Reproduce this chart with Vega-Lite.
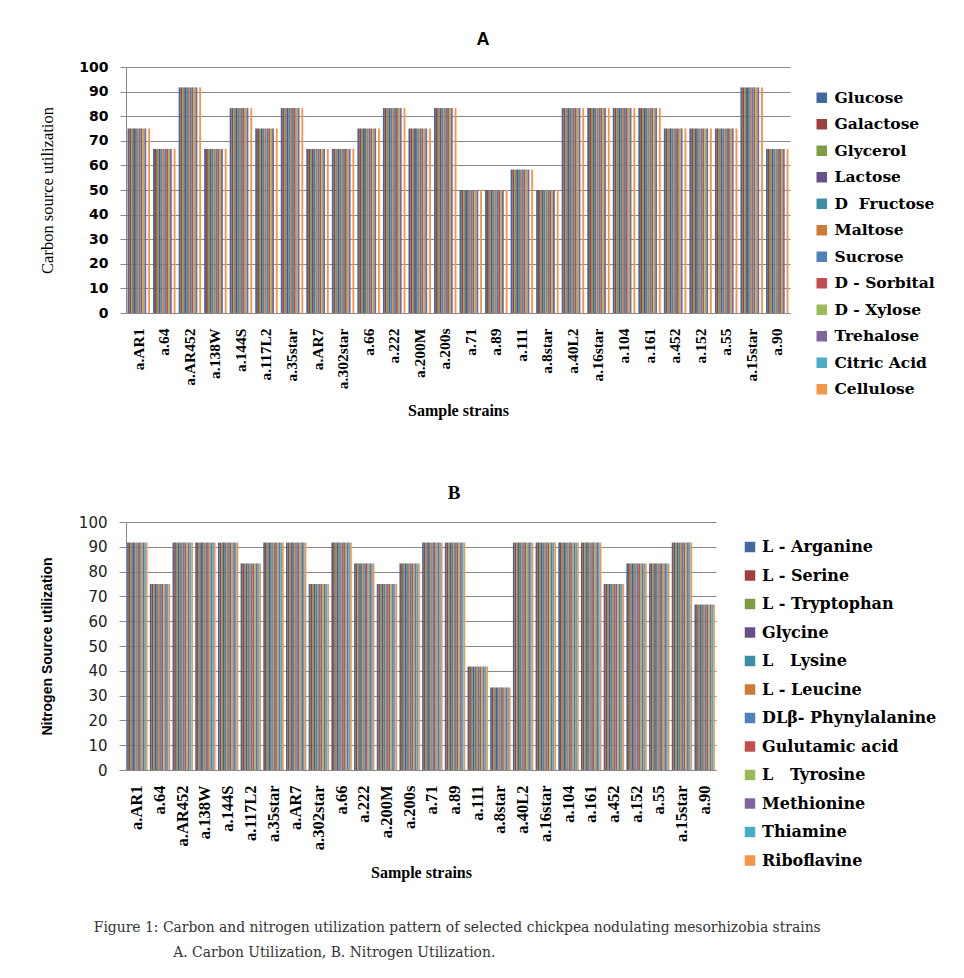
{
"$schema": "https://vega.github.io/schema/vega-lite/v6.json",
"background": "white",
"padding": {"left": 39, "top": 31, "right": 5, "bottom": 5},
"datasets": {
"carbon": [
{"strain":"a.AR1","source":"Glucose","pct":75},{"strain":"a.AR1","source":"Galactose","pct":75},{"strain":"a.AR1","source":"Glycerol","pct":75},{"strain":"a.AR1","source":"Lactose","pct":75},{"strain":"a.AR1","source":"D\u00a0\u00a0Fructose","pct":75},{"strain":"a.AR1","source":"Maltose","pct":75},{"strain":"a.AR1","source":"Sucrose","pct":75},{"strain":"a.AR1","source":"D - Sorbital","pct":75},{"strain":"a.AR1","source":"D - Xylose","pct":75},{"strain":"a.AR1","source":"Trehalose","pct":75},{"strain":"a.AR1","source":"Citric Acid","pct":0},{"strain":"a.AR1","source":"Cellulose","pct":75},
{"strain":"a.64","source":"Glucose","pct":66.7},{"strain":"a.64","source":"Galactose","pct":66.7},{"strain":"a.64","source":"Glycerol","pct":66.7},{"strain":"a.64","source":"Lactose","pct":66.7},{"strain":"a.64","source":"D\u00a0\u00a0Fructose","pct":66.7},{"strain":"a.64","source":"Maltose","pct":66.7},{"strain":"a.64","source":"Sucrose","pct":66.7},{"strain":"a.64","source":"D - Sorbital","pct":66.7},{"strain":"a.64","source":"D - Xylose","pct":66.7},{"strain":"a.64","source":"Trehalose","pct":66.7},{"strain":"a.64","source":"Citric Acid","pct":0},{"strain":"a.64","source":"Cellulose","pct":66.7},
{"strain":"a.AR452","source":"Glucose","pct":91.7},{"strain":"a.AR452","source":"Galactose","pct":91.7},{"strain":"a.AR452","source":"Glycerol","pct":91.7},{"strain":"a.AR452","source":"Lactose","pct":91.7},{"strain":"a.AR452","source":"D\u00a0\u00a0Fructose","pct":91.7},{"strain":"a.AR452","source":"Maltose","pct":91.7},{"strain":"a.AR452","source":"Sucrose","pct":91.7},{"strain":"a.AR452","source":"D - Sorbital","pct":91.7},{"strain":"a.AR452","source":"D - Xylose","pct":91.7},{"strain":"a.AR452","source":"Trehalose","pct":91.7},{"strain":"a.AR452","source":"Citric Acid","pct":0},{"strain":"a.AR452","source":"Cellulose","pct":91.7},
{"strain":"a.138W","source":"Glucose","pct":66.7},{"strain":"a.138W","source":"Galactose","pct":66.7},{"strain":"a.138W","source":"Glycerol","pct":66.7},{"strain":"a.138W","source":"Lactose","pct":66.7},{"strain":"a.138W","source":"D\u00a0\u00a0Fructose","pct":66.7},{"strain":"a.138W","source":"Maltose","pct":66.7},{"strain":"a.138W","source":"Sucrose","pct":66.7},{"strain":"a.138W","source":"D - Sorbital","pct":66.7},{"strain":"a.138W","source":"D - Xylose","pct":66.7},{"strain":"a.138W","source":"Trehalose","pct":66.7},{"strain":"a.138W","source":"Citric Acid","pct":0},{"strain":"a.138W","source":"Cellulose","pct":66.7},
{"strain":"a.144S","source":"Glucose","pct":83.3},{"strain":"a.144S","source":"Galactose","pct":83.3},{"strain":"a.144S","source":"Glycerol","pct":83.3},{"strain":"a.144S","source":"Lactose","pct":83.3},{"strain":"a.144S","source":"D\u00a0\u00a0Fructose","pct":83.3},{"strain":"a.144S","source":"Maltose","pct":83.3},{"strain":"a.144S","source":"Sucrose","pct":83.3},{"strain":"a.144S","source":"D - Sorbital","pct":83.3},{"strain":"a.144S","source":"D - Xylose","pct":83.3},{"strain":"a.144S","source":"Trehalose","pct":83.3},{"strain":"a.144S","source":"Citric Acid","pct":0},{"strain":"a.144S","source":"Cellulose","pct":83.3},
{"strain":"a.117L2","source":"Glucose","pct":75},{"strain":"a.117L2","source":"Galactose","pct":75},{"strain":"a.117L2","source":"Glycerol","pct":75},{"strain":"a.117L2","source":"Lactose","pct":75},{"strain":"a.117L2","source":"D\u00a0\u00a0Fructose","pct":75},{"strain":"a.117L2","source":"Maltose","pct":75},{"strain":"a.117L2","source":"Sucrose","pct":75},{"strain":"a.117L2","source":"D - Sorbital","pct":75},{"strain":"a.117L2","source":"D - Xylose","pct":75},{"strain":"a.117L2","source":"Trehalose","pct":75},{"strain":"a.117L2","source":"Citric Acid","pct":0},{"strain":"a.117L2","source":"Cellulose","pct":75},
{"strain":"a.35star","source":"Glucose","pct":83.3},{"strain":"a.35star","source":"Galactose","pct":83.3},{"strain":"a.35star","source":"Glycerol","pct":83.3},{"strain":"a.35star","source":"Lactose","pct":83.3},{"strain":"a.35star","source":"D\u00a0\u00a0Fructose","pct":83.3},{"strain":"a.35star","source":"Maltose","pct":83.3},{"strain":"a.35star","source":"Sucrose","pct":83.3},{"strain":"a.35star","source":"D - Sorbital","pct":83.3},{"strain":"a.35star","source":"D - Xylose","pct":83.3},{"strain":"a.35star","source":"Trehalose","pct":83.3},{"strain":"a.35star","source":"Citric Acid","pct":0},{"strain":"a.35star","source":"Cellulose","pct":83.3},
{"strain":"a.AR7","source":"Glucose","pct":66.7},{"strain":"a.AR7","source":"Galactose","pct":66.7},{"strain":"a.AR7","source":"Glycerol","pct":66.7},{"strain":"a.AR7","source":"Lactose","pct":66.7},{"strain":"a.AR7","source":"D\u00a0\u00a0Fructose","pct":66.7},{"strain":"a.AR7","source":"Maltose","pct":66.7},{"strain":"a.AR7","source":"Sucrose","pct":66.7},{"strain":"a.AR7","source":"D - Sorbital","pct":66.7},{"strain":"a.AR7","source":"D - Xylose","pct":66.7},{"strain":"a.AR7","source":"Trehalose","pct":66.7},{"strain":"a.AR7","source":"Citric Acid","pct":0},{"strain":"a.AR7","source":"Cellulose","pct":66.7},
{"strain":"a.302star","source":"Glucose","pct":66.7},{"strain":"a.302star","source":"Galactose","pct":66.7},{"strain":"a.302star","source":"Glycerol","pct":66.7},{"strain":"a.302star","source":"Lactose","pct":66.7},{"strain":"a.302star","source":"D\u00a0\u00a0Fructose","pct":66.7},{"strain":"a.302star","source":"Maltose","pct":66.7},{"strain":"a.302star","source":"Sucrose","pct":66.7},{"strain":"a.302star","source":"D - Sorbital","pct":66.7},{"strain":"a.302star","source":"D - Xylose","pct":66.7},{"strain":"a.302star","source":"Trehalose","pct":66.7},{"strain":"a.302star","source":"Citric Acid","pct":0},{"strain":"a.302star","source":"Cellulose","pct":66.7},
{"strain":"a.66","source":"Glucose","pct":75},{"strain":"a.66","source":"Galactose","pct":75},{"strain":"a.66","source":"Glycerol","pct":75},{"strain":"a.66","source":"Lactose","pct":75},{"strain":"a.66","source":"D\u00a0\u00a0Fructose","pct":75},{"strain":"a.66","source":"Maltose","pct":75},{"strain":"a.66","source":"Sucrose","pct":75},{"strain":"a.66","source":"D - Sorbital","pct":75},{"strain":"a.66","source":"D - Xylose","pct":75},{"strain":"a.66","source":"Trehalose","pct":75},{"strain":"a.66","source":"Citric Acid","pct":0},{"strain":"a.66","source":"Cellulose","pct":75},
{"strain":"a.222","source":"Glucose","pct":83.3},{"strain":"a.222","source":"Galactose","pct":83.3},{"strain":"a.222","source":"Glycerol","pct":83.3},{"strain":"a.222","source":"Lactose","pct":83.3},{"strain":"a.222","source":"D\u00a0\u00a0Fructose","pct":83.3},{"strain":"a.222","source":"Maltose","pct":83.3},{"strain":"a.222","source":"Sucrose","pct":83.3},{"strain":"a.222","source":"D - Sorbital","pct":83.3},{"strain":"a.222","source":"D - Xylose","pct":83.3},{"strain":"a.222","source":"Trehalose","pct":83.3},{"strain":"a.222","source":"Citric Acid","pct":0},{"strain":"a.222","source":"Cellulose","pct":83.3},
{"strain":"a.200M","source":"Glucose","pct":75},{"strain":"a.200M","source":"Galactose","pct":75},{"strain":"a.200M","source":"Glycerol","pct":75},{"strain":"a.200M","source":"Lactose","pct":75},{"strain":"a.200M","source":"D\u00a0\u00a0Fructose","pct":75},{"strain":"a.200M","source":"Maltose","pct":75},{"strain":"a.200M","source":"Sucrose","pct":75},{"strain":"a.200M","source":"D - Sorbital","pct":75},{"strain":"a.200M","source":"D - Xylose","pct":75},{"strain":"a.200M","source":"Trehalose","pct":75},{"strain":"a.200M","source":"Citric Acid","pct":0},{"strain":"a.200M","source":"Cellulose","pct":75},
{"strain":"a.200s","source":"Glucose","pct":83.3},{"strain":"a.200s","source":"Galactose","pct":83.3},{"strain":"a.200s","source":"Glycerol","pct":83.3},{"strain":"a.200s","source":"Lactose","pct":83.3},{"strain":"a.200s","source":"D\u00a0\u00a0Fructose","pct":83.3},{"strain":"a.200s","source":"Maltose","pct":83.3},{"strain":"a.200s","source":"Sucrose","pct":83.3},{"strain":"a.200s","source":"D - Sorbital","pct":83.3},{"strain":"a.200s","source":"D - Xylose","pct":83.3},{"strain":"a.200s","source":"Trehalose","pct":83.3},{"strain":"a.200s","source":"Citric Acid","pct":0},{"strain":"a.200s","source":"Cellulose","pct":83.3},
{"strain":"a.71","source":"Glucose","pct":50},{"strain":"a.71","source":"Galactose","pct":50},{"strain":"a.71","source":"Glycerol","pct":50},{"strain":"a.71","source":"Lactose","pct":50},{"strain":"a.71","source":"D\u00a0\u00a0Fructose","pct":50},{"strain":"a.71","source":"Maltose","pct":50},{"strain":"a.71","source":"Sucrose","pct":50},{"strain":"a.71","source":"D - Sorbital","pct":50},{"strain":"a.71","source":"D - Xylose","pct":50},{"strain":"a.71","source":"Trehalose","pct":50},{"strain":"a.71","source":"Citric Acid","pct":0},{"strain":"a.71","source":"Cellulose","pct":50},
{"strain":"a.89","source":"Glucose","pct":50},{"strain":"a.89","source":"Galactose","pct":50},{"strain":"a.89","source":"Glycerol","pct":50},{"strain":"a.89","source":"Lactose","pct":50},{"strain":"a.89","source":"D\u00a0\u00a0Fructose","pct":50},{"strain":"a.89","source":"Maltose","pct":50},{"strain":"a.89","source":"Sucrose","pct":50},{"strain":"a.89","source":"D - Sorbital","pct":50},{"strain":"a.89","source":"D - Xylose","pct":50},{"strain":"a.89","source":"Trehalose","pct":50},{"strain":"a.89","source":"Citric Acid","pct":0},{"strain":"a.89","source":"Cellulose","pct":50},
{"strain":"a.111","source":"Glucose","pct":58.3},{"strain":"a.111","source":"Galactose","pct":58.3},{"strain":"a.111","source":"Glycerol","pct":58.3},{"strain":"a.111","source":"Lactose","pct":58.3},{"strain":"a.111","source":"D\u00a0\u00a0Fructose","pct":58.3},{"strain":"a.111","source":"Maltose","pct":58.3},{"strain":"a.111","source":"Sucrose","pct":58.3},{"strain":"a.111","source":"D - Sorbital","pct":58.3},{"strain":"a.111","source":"D - Xylose","pct":58.3},{"strain":"a.111","source":"Trehalose","pct":58.3},{"strain":"a.111","source":"Citric Acid","pct":0},{"strain":"a.111","source":"Cellulose","pct":58.3},
{"strain":"a.8star","source":"Glucose","pct":50},{"strain":"a.8star","source":"Galactose","pct":50},{"strain":"a.8star","source":"Glycerol","pct":50},{"strain":"a.8star","source":"Lactose","pct":50},{"strain":"a.8star","source":"D\u00a0\u00a0Fructose","pct":50},{"strain":"a.8star","source":"Maltose","pct":50},{"strain":"a.8star","source":"Sucrose","pct":50},{"strain":"a.8star","source":"D - Sorbital","pct":50},{"strain":"a.8star","source":"D - Xylose","pct":50},{"strain":"a.8star","source":"Trehalose","pct":50},{"strain":"a.8star","source":"Citric Acid","pct":0},{"strain":"a.8star","source":"Cellulose","pct":50},
{"strain":"a.40L2","source":"Glucose","pct":83.3},{"strain":"a.40L2","source":"Galactose","pct":83.3},{"strain":"a.40L2","source":"Glycerol","pct":83.3},{"strain":"a.40L2","source":"Lactose","pct":83.3},{"strain":"a.40L2","source":"D\u00a0\u00a0Fructose","pct":83.3},{"strain":"a.40L2","source":"Maltose","pct":83.3},{"strain":"a.40L2","source":"Sucrose","pct":83.3},{"strain":"a.40L2","source":"D - Sorbital","pct":83.3},{"strain":"a.40L2","source":"D - Xylose","pct":83.3},{"strain":"a.40L2","source":"Trehalose","pct":83.3},{"strain":"a.40L2","source":"Citric Acid","pct":0},{"strain":"a.40L2","source":"Cellulose","pct":83.3},
{"strain":"a.16star","source":"Glucose","pct":83.3},{"strain":"a.16star","source":"Galactose","pct":83.3},{"strain":"a.16star","source":"Glycerol","pct":83.3},{"strain":"a.16star","source":"Lactose","pct":83.3},{"strain":"a.16star","source":"D\u00a0\u00a0Fructose","pct":83.3},{"strain":"a.16star","source":"Maltose","pct":83.3},{"strain":"a.16star","source":"Sucrose","pct":83.3},{"strain":"a.16star","source":"D - Sorbital","pct":83.3},{"strain":"a.16star","source":"D - Xylose","pct":83.3},{"strain":"a.16star","source":"Trehalose","pct":83.3},{"strain":"a.16star","source":"Citric Acid","pct":0},{"strain":"a.16star","source":"Cellulose","pct":83.3},
{"strain":"a.104","source":"Glucose","pct":83.3},{"strain":"a.104","source":"Galactose","pct":83.3},{"strain":"a.104","source":"Glycerol","pct":83.3},{"strain":"a.104","source":"Lactose","pct":83.3},{"strain":"a.104","source":"D\u00a0\u00a0Fructose","pct":83.3},{"strain":"a.104","source":"Maltose","pct":83.3},{"strain":"a.104","source":"Sucrose","pct":83.3},{"strain":"a.104","source":"D - Sorbital","pct":83.3},{"strain":"a.104","source":"D - Xylose","pct":83.3},{"strain":"a.104","source":"Trehalose","pct":83.3},{"strain":"a.104","source":"Citric Acid","pct":0},{"strain":"a.104","source":"Cellulose","pct":83.3},
{"strain":"a.161","source":"Glucose","pct":83.3},{"strain":"a.161","source":"Galactose","pct":83.3},{"strain":"a.161","source":"Glycerol","pct":83.3},{"strain":"a.161","source":"Lactose","pct":83.3},{"strain":"a.161","source":"D\u00a0\u00a0Fructose","pct":83.3},{"strain":"a.161","source":"Maltose","pct":83.3},{"strain":"a.161","source":"Sucrose","pct":83.3},{"strain":"a.161","source":"D - Sorbital","pct":83.3},{"strain":"a.161","source":"D - Xylose","pct":83.3},{"strain":"a.161","source":"Trehalose","pct":83.3},{"strain":"a.161","source":"Citric Acid","pct":0},{"strain":"a.161","source":"Cellulose","pct":83.3},
{"strain":"a.452","source":"Glucose","pct":75},{"strain":"a.452","source":"Galactose","pct":75},{"strain":"a.452","source":"Glycerol","pct":75},{"strain":"a.452","source":"Lactose","pct":75},{"strain":"a.452","source":"D\u00a0\u00a0Fructose","pct":75},{"strain":"a.452","source":"Maltose","pct":75},{"strain":"a.452","source":"Sucrose","pct":75},{"strain":"a.452","source":"D - Sorbital","pct":75},{"strain":"a.452","source":"D - Xylose","pct":75},{"strain":"a.452","source":"Trehalose","pct":75},{"strain":"a.452","source":"Citric Acid","pct":0},{"strain":"a.452","source":"Cellulose","pct":75},
{"strain":"a.152","source":"Glucose","pct":75},{"strain":"a.152","source":"Galactose","pct":75},{"strain":"a.152","source":"Glycerol","pct":75},{"strain":"a.152","source":"Lactose","pct":75},{"strain":"a.152","source":"D\u00a0\u00a0Fructose","pct":75},{"strain":"a.152","source":"Maltose","pct":75},{"strain":"a.152","source":"Sucrose","pct":75},{"strain":"a.152","source":"D - Sorbital","pct":75},{"strain":"a.152","source":"D - Xylose","pct":75},{"strain":"a.152","source":"Trehalose","pct":75},{"strain":"a.152","source":"Citric Acid","pct":0},{"strain":"a.152","source":"Cellulose","pct":75},
{"strain":"a.55","source":"Glucose","pct":75},{"strain":"a.55","source":"Galactose","pct":75},{"strain":"a.55","source":"Glycerol","pct":75},{"strain":"a.55","source":"Lactose","pct":75},{"strain":"a.55","source":"D\u00a0\u00a0Fructose","pct":75},{"strain":"a.55","source":"Maltose","pct":75},{"strain":"a.55","source":"Sucrose","pct":75},{"strain":"a.55","source":"D - Sorbital","pct":75},{"strain":"a.55","source":"D - Xylose","pct":75},{"strain":"a.55","source":"Trehalose","pct":75},{"strain":"a.55","source":"Citric Acid","pct":0},{"strain":"a.55","source":"Cellulose","pct":75},
{"strain":"a.15star","source":"Glucose","pct":91.7},{"strain":"a.15star","source":"Galactose","pct":91.7},{"strain":"a.15star","source":"Glycerol","pct":91.7},{"strain":"a.15star","source":"Lactose","pct":91.7},{"strain":"a.15star","source":"D\u00a0\u00a0Fructose","pct":91.7},{"strain":"a.15star","source":"Maltose","pct":91.7},{"strain":"a.15star","source":"Sucrose","pct":91.7},{"strain":"a.15star","source":"D - Sorbital","pct":91.7},{"strain":"a.15star","source":"D - Xylose","pct":91.7},{"strain":"a.15star","source":"Trehalose","pct":91.7},{"strain":"a.15star","source":"Citric Acid","pct":0},{"strain":"a.15star","source":"Cellulose","pct":91.7},
{"strain":"a.90","source":"Glucose","pct":66.7},{"strain":"a.90","source":"Galactose","pct":66.7},{"strain":"a.90","source":"Glycerol","pct":66.7},{"strain":"a.90","source":"Lactose","pct":66.7},{"strain":"a.90","source":"D\u00a0\u00a0Fructose","pct":66.7},{"strain":"a.90","source":"Maltose","pct":66.7},{"strain":"a.90","source":"Sucrose","pct":66.7},{"strain":"a.90","source":"D - Sorbital","pct":66.7},{"strain":"a.90","source":"D - Xylose","pct":66.7},{"strain":"a.90","source":"Trehalose","pct":66.7},{"strain":"a.90","source":"Citric Acid","pct":0},{"strain":"a.90","source":"Cellulose","pct":66.7}
],
"nitrogen": [
{"strain":"a.AR1","source":"L - Arganine","pct":91.7},{"strain":"a.AR1","source":"L - Serine","pct":91.7},{"strain":"a.AR1","source":"L - Tryptophan","pct":91.7},{"strain":"a.AR1","source":"Glycine","pct":91.7},{"strain":"a.AR1","source":"L\u00a0\u00a0\u00a0Lysine","pct":91.7},{"strain":"a.AR1","source":"L - Leucine","pct":91.7},{"strain":"a.AR1","source":"DLβ- Phynylalanine","pct":91.7},{"strain":"a.AR1","source":"Gulutamic acid","pct":91.7},{"strain":"a.AR1","source":"L\u00a0\u00a0\u00a0Tyrosine","pct":91.7},{"strain":"a.AR1","source":"Methionine","pct":91.7},{"strain":"a.AR1","source":"Thiamine","pct":91.7},{"strain":"a.AR1","source":"Riboflavine","pct":91.7},
{"strain":"a.64","source":"L - Arganine","pct":75},{"strain":"a.64","source":"L - Serine","pct":75},{"strain":"a.64","source":"L - Tryptophan","pct":75},{"strain":"a.64","source":"Glycine","pct":75},{"strain":"a.64","source":"L\u00a0\u00a0\u00a0Lysine","pct":75},{"strain":"a.64","source":"L - Leucine","pct":75},{"strain":"a.64","source":"DLβ- Phynylalanine","pct":75},{"strain":"a.64","source":"Gulutamic acid","pct":75},{"strain":"a.64","source":"L\u00a0\u00a0\u00a0Tyrosine","pct":75},{"strain":"a.64","source":"Methionine","pct":75},{"strain":"a.64","source":"Thiamine","pct":75},{"strain":"a.64","source":"Riboflavine","pct":75},
{"strain":"a.AR452","source":"L - Arganine","pct":91.7},{"strain":"a.AR452","source":"L - Serine","pct":91.7},{"strain":"a.AR452","source":"L - Tryptophan","pct":91.7},{"strain":"a.AR452","source":"Glycine","pct":91.7},{"strain":"a.AR452","source":"L\u00a0\u00a0\u00a0Lysine","pct":91.7},{"strain":"a.AR452","source":"L - Leucine","pct":91.7},{"strain":"a.AR452","source":"DLβ- Phynylalanine","pct":91.7},{"strain":"a.AR452","source":"Gulutamic acid","pct":91.7},{"strain":"a.AR452","source":"L\u00a0\u00a0\u00a0Tyrosine","pct":91.7},{"strain":"a.AR452","source":"Methionine","pct":91.7},{"strain":"a.AR452","source":"Thiamine","pct":91.7},{"strain":"a.AR452","source":"Riboflavine","pct":91.7},
{"strain":"a.138W","source":"L - Arganine","pct":91.7},{"strain":"a.138W","source":"L - Serine","pct":91.7},{"strain":"a.138W","source":"L - Tryptophan","pct":91.7},{"strain":"a.138W","source":"Glycine","pct":91.7},{"strain":"a.138W","source":"L\u00a0\u00a0\u00a0Lysine","pct":91.7},{"strain":"a.138W","source":"L - Leucine","pct":91.7},{"strain":"a.138W","source":"DLβ- Phynylalanine","pct":91.7},{"strain":"a.138W","source":"Gulutamic acid","pct":91.7},{"strain":"a.138W","source":"L\u00a0\u00a0\u00a0Tyrosine","pct":91.7},{"strain":"a.138W","source":"Methionine","pct":91.7},{"strain":"a.138W","source":"Thiamine","pct":91.7},{"strain":"a.138W","source":"Riboflavine","pct":91.7},
{"strain":"a.144S","source":"L - Arganine","pct":91.7},{"strain":"a.144S","source":"L - Serine","pct":91.7},{"strain":"a.144S","source":"L - Tryptophan","pct":91.7},{"strain":"a.144S","source":"Glycine","pct":91.7},{"strain":"a.144S","source":"L\u00a0\u00a0\u00a0Lysine","pct":91.7},{"strain":"a.144S","source":"L - Leucine","pct":91.7},{"strain":"a.144S","source":"DLβ- Phynylalanine","pct":91.7},{"strain":"a.144S","source":"Gulutamic acid","pct":91.7},{"strain":"a.144S","source":"L\u00a0\u00a0\u00a0Tyrosine","pct":91.7},{"strain":"a.144S","source":"Methionine","pct":91.7},{"strain":"a.144S","source":"Thiamine","pct":91.7},{"strain":"a.144S","source":"Riboflavine","pct":91.7},
{"strain":"a.117L2","source":"L - Arganine","pct":83.3},{"strain":"a.117L2","source":"L - Serine","pct":83.3},{"strain":"a.117L2","source":"L - Tryptophan","pct":83.3},{"strain":"a.117L2","source":"Glycine","pct":83.3},{"strain":"a.117L2","source":"L\u00a0\u00a0\u00a0Lysine","pct":83.3},{"strain":"a.117L2","source":"L - Leucine","pct":83.3},{"strain":"a.117L2","source":"DLβ- Phynylalanine","pct":83.3},{"strain":"a.117L2","source":"Gulutamic acid","pct":83.3},{"strain":"a.117L2","source":"L\u00a0\u00a0\u00a0Tyrosine","pct":83.3},{"strain":"a.117L2","source":"Methionine","pct":83.3},{"strain":"a.117L2","source":"Thiamine","pct":83.3},{"strain":"a.117L2","source":"Riboflavine","pct":83.3},
{"strain":"a.35star","source":"L - Arganine","pct":91.7},{"strain":"a.35star","source":"L - Serine","pct":91.7},{"strain":"a.35star","source":"L - Tryptophan","pct":91.7},{"strain":"a.35star","source":"Glycine","pct":91.7},{"strain":"a.35star","source":"L\u00a0\u00a0\u00a0Lysine","pct":91.7},{"strain":"a.35star","source":"L - Leucine","pct":91.7},{"strain":"a.35star","source":"DLβ- Phynylalanine","pct":91.7},{"strain":"a.35star","source":"Gulutamic acid","pct":91.7},{"strain":"a.35star","source":"L\u00a0\u00a0\u00a0Tyrosine","pct":91.7},{"strain":"a.35star","source":"Methionine","pct":91.7},{"strain":"a.35star","source":"Thiamine","pct":91.7},{"strain":"a.35star","source":"Riboflavine","pct":91.7},
{"strain":"a.AR7","source":"L - Arganine","pct":91.7},{"strain":"a.AR7","source":"L - Serine","pct":91.7},{"strain":"a.AR7","source":"L - Tryptophan","pct":91.7},{"strain":"a.AR7","source":"Glycine","pct":91.7},{"strain":"a.AR7","source":"L\u00a0\u00a0\u00a0Lysine","pct":91.7},{"strain":"a.AR7","source":"L - Leucine","pct":91.7},{"strain":"a.AR7","source":"DLβ- Phynylalanine","pct":91.7},{"strain":"a.AR7","source":"Gulutamic acid","pct":91.7},{"strain":"a.AR7","source":"L\u00a0\u00a0\u00a0Tyrosine","pct":91.7},{"strain":"a.AR7","source":"Methionine","pct":91.7},{"strain":"a.AR7","source":"Thiamine","pct":91.7},{"strain":"a.AR7","source":"Riboflavine","pct":91.7},
{"strain":"a.302star","source":"L - Arganine","pct":75},{"strain":"a.302star","source":"L - Serine","pct":75},{"strain":"a.302star","source":"L - Tryptophan","pct":75},{"strain":"a.302star","source":"Glycine","pct":75},{"strain":"a.302star","source":"L\u00a0\u00a0\u00a0Lysine","pct":75},{"strain":"a.302star","source":"L - Leucine","pct":75},{"strain":"a.302star","source":"DLβ- Phynylalanine","pct":75},{"strain":"a.302star","source":"Gulutamic acid","pct":75},{"strain":"a.302star","source":"L\u00a0\u00a0\u00a0Tyrosine","pct":75},{"strain":"a.302star","source":"Methionine","pct":75},{"strain":"a.302star","source":"Thiamine","pct":75},{"strain":"a.302star","source":"Riboflavine","pct":75},
{"strain":"a.66","source":"L - Arganine","pct":91.7},{"strain":"a.66","source":"L - Serine","pct":91.7},{"strain":"a.66","source":"L - Tryptophan","pct":91.7},{"strain":"a.66","source":"Glycine","pct":91.7},{"strain":"a.66","source":"L\u00a0\u00a0\u00a0Lysine","pct":91.7},{"strain":"a.66","source":"L - Leucine","pct":91.7},{"strain":"a.66","source":"DLβ- Phynylalanine","pct":91.7},{"strain":"a.66","source":"Gulutamic acid","pct":91.7},{"strain":"a.66","source":"L\u00a0\u00a0\u00a0Tyrosine","pct":91.7},{"strain":"a.66","source":"Methionine","pct":91.7},{"strain":"a.66","source":"Thiamine","pct":91.7},{"strain":"a.66","source":"Riboflavine","pct":91.7},
{"strain":"a.222","source":"L - Arganine","pct":83.3},{"strain":"a.222","source":"L - Serine","pct":83.3},{"strain":"a.222","source":"L - Tryptophan","pct":83.3},{"strain":"a.222","source":"Glycine","pct":83.3},{"strain":"a.222","source":"L\u00a0\u00a0\u00a0Lysine","pct":83.3},{"strain":"a.222","source":"L - Leucine","pct":83.3},{"strain":"a.222","source":"DLβ- Phynylalanine","pct":83.3},{"strain":"a.222","source":"Gulutamic acid","pct":83.3},{"strain":"a.222","source":"L\u00a0\u00a0\u00a0Tyrosine","pct":83.3},{"strain":"a.222","source":"Methionine","pct":83.3},{"strain":"a.222","source":"Thiamine","pct":83.3},{"strain":"a.222","source":"Riboflavine","pct":83.3},
{"strain":"a.200M","source":"L - Arganine","pct":75},{"strain":"a.200M","source":"L - Serine","pct":75},{"strain":"a.200M","source":"L - Tryptophan","pct":75},{"strain":"a.200M","source":"Glycine","pct":75},{"strain":"a.200M","source":"L\u00a0\u00a0\u00a0Lysine","pct":75},{"strain":"a.200M","source":"L - Leucine","pct":75},{"strain":"a.200M","source":"DLβ- Phynylalanine","pct":75},{"strain":"a.200M","source":"Gulutamic acid","pct":75},{"strain":"a.200M","source":"L\u00a0\u00a0\u00a0Tyrosine","pct":75},{"strain":"a.200M","source":"Methionine","pct":75},{"strain":"a.200M","source":"Thiamine","pct":75},{"strain":"a.200M","source":"Riboflavine","pct":75},
{"strain":"a.200s","source":"L - Arganine","pct":83.3},{"strain":"a.200s","source":"L - Serine","pct":83.3},{"strain":"a.200s","source":"L - Tryptophan","pct":83.3},{"strain":"a.200s","source":"Glycine","pct":83.3},{"strain":"a.200s","source":"L\u00a0\u00a0\u00a0Lysine","pct":83.3},{"strain":"a.200s","source":"L - Leucine","pct":83.3},{"strain":"a.200s","source":"DLβ- Phynylalanine","pct":83.3},{"strain":"a.200s","source":"Gulutamic acid","pct":83.3},{"strain":"a.200s","source":"L\u00a0\u00a0\u00a0Tyrosine","pct":83.3},{"strain":"a.200s","source":"Methionine","pct":83.3},{"strain":"a.200s","source":"Thiamine","pct":83.3},{"strain":"a.200s","source":"Riboflavine","pct":83.3},
{"strain":"a.71","source":"L - Arganine","pct":91.7},{"strain":"a.71","source":"L - Serine","pct":91.7},{"strain":"a.71","source":"L - Tryptophan","pct":91.7},{"strain":"a.71","source":"Glycine","pct":91.7},{"strain":"a.71","source":"L\u00a0\u00a0\u00a0Lysine","pct":91.7},{"strain":"a.71","source":"L - Leucine","pct":91.7},{"strain":"a.71","source":"DLβ- Phynylalanine","pct":91.7},{"strain":"a.71","source":"Gulutamic acid","pct":91.7},{"strain":"a.71","source":"L\u00a0\u00a0\u00a0Tyrosine","pct":91.7},{"strain":"a.71","source":"Methionine","pct":91.7},{"strain":"a.71","source":"Thiamine","pct":91.7},{"strain":"a.71","source":"Riboflavine","pct":91.7},
{"strain":"a.89","source":"L - Arganine","pct":91.7},{"strain":"a.89","source":"L - Serine","pct":91.7},{"strain":"a.89","source":"L - Tryptophan","pct":91.7},{"strain":"a.89","source":"Glycine","pct":91.7},{"strain":"a.89","source":"L\u00a0\u00a0\u00a0Lysine","pct":91.7},{"strain":"a.89","source":"L - Leucine","pct":91.7},{"strain":"a.89","source":"DLβ- Phynylalanine","pct":91.7},{"strain":"a.89","source":"Gulutamic acid","pct":91.7},{"strain":"a.89","source":"L\u00a0\u00a0\u00a0Tyrosine","pct":91.7},{"strain":"a.89","source":"Methionine","pct":91.7},{"strain":"a.89","source":"Thiamine","pct":91.7},{"strain":"a.89","source":"Riboflavine","pct":91.7},
{"strain":"a.111","source":"L - Arganine","pct":41.7},{"strain":"a.111","source":"L - Serine","pct":41.7},{"strain":"a.111","source":"L - Tryptophan","pct":41.7},{"strain":"a.111","source":"Glycine","pct":41.7},{"strain":"a.111","source":"L\u00a0\u00a0\u00a0Lysine","pct":41.7},{"strain":"a.111","source":"L - Leucine","pct":41.7},{"strain":"a.111","source":"DLβ- Phynylalanine","pct":41.7},{"strain":"a.111","source":"Gulutamic acid","pct":41.7},{"strain":"a.111","source":"L\u00a0\u00a0\u00a0Tyrosine","pct":41.7},{"strain":"a.111","source":"Methionine","pct":41.7},{"strain":"a.111","source":"Thiamine","pct":41.7},{"strain":"a.111","source":"Riboflavine","pct":41.7},
{"strain":"a.8star","source":"L - Arganine","pct":33.3},{"strain":"a.8star","source":"L - Serine","pct":33.3},{"strain":"a.8star","source":"L - Tryptophan","pct":33.3},{"strain":"a.8star","source":"Glycine","pct":33.3},{"strain":"a.8star","source":"L\u00a0\u00a0\u00a0Lysine","pct":33.3},{"strain":"a.8star","source":"L - Leucine","pct":33.3},{"strain":"a.8star","source":"DLβ- Phynylalanine","pct":33.3},{"strain":"a.8star","source":"Gulutamic acid","pct":33.3},{"strain":"a.8star","source":"L\u00a0\u00a0\u00a0Tyrosine","pct":33.3},{"strain":"a.8star","source":"Methionine","pct":33.3},{"strain":"a.8star","source":"Thiamine","pct":33.3},{"strain":"a.8star","source":"Riboflavine","pct":33.3},
{"strain":"a.40L2","source":"L - Arganine","pct":91.7},{"strain":"a.40L2","source":"L - Serine","pct":91.7},{"strain":"a.40L2","source":"L - Tryptophan","pct":91.7},{"strain":"a.40L2","source":"Glycine","pct":91.7},{"strain":"a.40L2","source":"L\u00a0\u00a0\u00a0Lysine","pct":91.7},{"strain":"a.40L2","source":"L - Leucine","pct":91.7},{"strain":"a.40L2","source":"DLβ- Phynylalanine","pct":91.7},{"strain":"a.40L2","source":"Gulutamic acid","pct":91.7},{"strain":"a.40L2","source":"L\u00a0\u00a0\u00a0Tyrosine","pct":91.7},{"strain":"a.40L2","source":"Methionine","pct":91.7},{"strain":"a.40L2","source":"Thiamine","pct":91.7},{"strain":"a.40L2","source":"Riboflavine","pct":91.7},
{"strain":"a.16star","source":"L - Arganine","pct":91.7},{"strain":"a.16star","source":"L - Serine","pct":91.7},{"strain":"a.16star","source":"L - Tryptophan","pct":91.7},{"strain":"a.16star","source":"Glycine","pct":91.7},{"strain":"a.16star","source":"L\u00a0\u00a0\u00a0Lysine","pct":91.7},{"strain":"a.16star","source":"L - Leucine","pct":91.7},{"strain":"a.16star","source":"DLβ- Phynylalanine","pct":91.7},{"strain":"a.16star","source":"Gulutamic acid","pct":91.7},{"strain":"a.16star","source":"L\u00a0\u00a0\u00a0Tyrosine","pct":91.7},{"strain":"a.16star","source":"Methionine","pct":91.7},{"strain":"a.16star","source":"Thiamine","pct":91.7},{"strain":"a.16star","source":"Riboflavine","pct":91.7},
{"strain":"a.104","source":"L - Arganine","pct":91.7},{"strain":"a.104","source":"L - Serine","pct":91.7},{"strain":"a.104","source":"L - Tryptophan","pct":91.7},{"strain":"a.104","source":"Glycine","pct":91.7},{"strain":"a.104","source":"L\u00a0\u00a0\u00a0Lysine","pct":91.7},{"strain":"a.104","source":"L - Leucine","pct":91.7},{"strain":"a.104","source":"DLβ- Phynylalanine","pct":91.7},{"strain":"a.104","source":"Gulutamic acid","pct":91.7},{"strain":"a.104","source":"L\u00a0\u00a0\u00a0Tyrosine","pct":91.7},{"strain":"a.104","source":"Methionine","pct":91.7},{"strain":"a.104","source":"Thiamine","pct":91.7},{"strain":"a.104","source":"Riboflavine","pct":91.7},
{"strain":"a.161","source":"L - Arganine","pct":91.7},{"strain":"a.161","source":"L - Serine","pct":91.7},{"strain":"a.161","source":"L - Tryptophan","pct":91.7},{"strain":"a.161","source":"Glycine","pct":91.7},{"strain":"a.161","source":"L\u00a0\u00a0\u00a0Lysine","pct":91.7},{"strain":"a.161","source":"L - Leucine","pct":91.7},{"strain":"a.161","source":"DLβ- Phynylalanine","pct":91.7},{"strain":"a.161","source":"Gulutamic acid","pct":91.7},{"strain":"a.161","source":"L\u00a0\u00a0\u00a0Tyrosine","pct":91.7},{"strain":"a.161","source":"Methionine","pct":91.7},{"strain":"a.161","source":"Thiamine","pct":91.7},{"strain":"a.161","source":"Riboflavine","pct":91.7},
{"strain":"a.452","source":"L - Arganine","pct":75},{"strain":"a.452","source":"L - Serine","pct":75},{"strain":"a.452","source":"L - Tryptophan","pct":75},{"strain":"a.452","source":"Glycine","pct":75},{"strain":"a.452","source":"L\u00a0\u00a0\u00a0Lysine","pct":75},{"strain":"a.452","source":"L - Leucine","pct":75},{"strain":"a.452","source":"DLβ- Phynylalanine","pct":75},{"strain":"a.452","source":"Gulutamic acid","pct":75},{"strain":"a.452","source":"L\u00a0\u00a0\u00a0Tyrosine","pct":75},{"strain":"a.452","source":"Methionine","pct":75},{"strain":"a.452","source":"Thiamine","pct":75},{"strain":"a.452","source":"Riboflavine","pct":75},
{"strain":"a.152","source":"L - Arganine","pct":83.3},{"strain":"a.152","source":"L - Serine","pct":83.3},{"strain":"a.152","source":"L - Tryptophan","pct":83.3},{"strain":"a.152","source":"Glycine","pct":83.3},{"strain":"a.152","source":"L\u00a0\u00a0\u00a0Lysine","pct":83.3},{"strain":"a.152","source":"L - Leucine","pct":83.3},{"strain":"a.152","source":"DLβ- Phynylalanine","pct":83.3},{"strain":"a.152","source":"Gulutamic acid","pct":83.3},{"strain":"a.152","source":"L\u00a0\u00a0\u00a0Tyrosine","pct":83.3},{"strain":"a.152","source":"Methionine","pct":83.3},{"strain":"a.152","source":"Thiamine","pct":83.3},{"strain":"a.152","source":"Riboflavine","pct":83.3},
{"strain":"a.55","source":"L - Arganine","pct":83.3},{"strain":"a.55","source":"L - Serine","pct":83.3},{"strain":"a.55","source":"L - Tryptophan","pct":83.3},{"strain":"a.55","source":"Glycine","pct":83.3},{"strain":"a.55","source":"L\u00a0\u00a0\u00a0Lysine","pct":83.3},{"strain":"a.55","source":"L - Leucine","pct":83.3},{"strain":"a.55","source":"DLβ- Phynylalanine","pct":83.3},{"strain":"a.55","source":"Gulutamic acid","pct":83.3},{"strain":"a.55","source":"L\u00a0\u00a0\u00a0Tyrosine","pct":83.3},{"strain":"a.55","source":"Methionine","pct":83.3},{"strain":"a.55","source":"Thiamine","pct":83.3},{"strain":"a.55","source":"Riboflavine","pct":83.3},
{"strain":"a.15star","source":"L - Arganine","pct":91.7},{"strain":"a.15star","source":"L - Serine","pct":91.7},{"strain":"a.15star","source":"L - Tryptophan","pct":91.7},{"strain":"a.15star","source":"Glycine","pct":91.7},{"strain":"a.15star","source":"L\u00a0\u00a0\u00a0Lysine","pct":91.7},{"strain":"a.15star","source":"L - Leucine","pct":91.7},{"strain":"a.15star","source":"DLβ- Phynylalanine","pct":91.7},{"strain":"a.15star","source":"Gulutamic acid","pct":91.7},{"strain":"a.15star","source":"L\u00a0\u00a0\u00a0Tyrosine","pct":91.7},{"strain":"a.15star","source":"Methionine","pct":91.7},{"strain":"a.15star","source":"Thiamine","pct":91.7},{"strain":"a.15star","source":"Riboflavine","pct":91.7},
{"strain":"a.90","source":"L - Arganine","pct":66.7},{"strain":"a.90","source":"L - Serine","pct":66.7},{"strain":"a.90","source":"L - Tryptophan","pct":66.7},{"strain":"a.90","source":"Glycine","pct":66.7},{"strain":"a.90","source":"L\u00a0\u00a0\u00a0Lysine","pct":66.7},{"strain":"a.90","source":"L - Leucine","pct":66.7},{"strain":"a.90","source":"DLβ- Phynylalanine","pct":66.7},{"strain":"a.90","source":"Gulutamic acid","pct":66.7},{"strain":"a.90","source":"L\u00a0\u00a0\u00a0Tyrosine","pct":66.7},{"strain":"a.90","source":"Methionine","pct":66.7},{"strain":"a.90","source":"Thiamine","pct":66.7},{"strain":"a.90","source":"Riboflavine","pct":66.7}
]
},
"title": {
"text": ["Figure 1: Carbon and nitrogen utilization pattern of selected chickpea nodulating mesorhizobia strains", "\u200b\u00a0\u00a0\u00a0\u00a0\u00a0\u00a0\u00a0\u00a0\u00a0\u00a0\u00a0\u00a0\u00a0\u00a0\u00a0\u00a0\u00a0\u00a0A. Carbon Utilization, B. Nitrogen Utilization."],
"orient": "bottom", "anchor": "start", "dx": 54, "offset": 40,
"font": "DejaVu Serif", "fontSize": 13.9, "fontWeight": "normal", "lineHeight": 25, "color": "#333"
},
"spacing": 65,
"resolve": {"scale": {"color": "independent", "x": "independent", "xOffset": "independent", "y": "independent"}, "legend": {"color": "independent"}},
"vconcat": [
{
"data": {"name": "carbon"},
"width": 664, "height": 246,
"title": {"text": "A", "font": "Liberation Sans", "fontSize": 18, "fontWeight": "bold", "color": "black", "anchor": "middle", "dx": 25, "offset": 11},
"mark": {"type": "bar"},
"encoding": {
"x": {"field": "strain", "type": "nominal", "sort": null,
"scale": {"paddingInner": 0.12, "paddingOuter": 0.06},
"axis": {"title": "Sample strains", "labelAngle": -90, "labelFont": "Liberation Serif", "labelFontSize": 15.5, "labelFontWeight": "bold", "labelColor": "black", "ticks": false, "labelPadding": 15, "domainColor": "#888", "titleFont": "Liberation Serif", "titleFontSize": 16, "titleFontWeight": "bold", "titleColor": "black", "titlePadding": 14, "grid": false}},
"xOffset": {"field": "source", "type": "nominal", "sort": null},
"y": {"field": "pct", "type": "quantitative", "scale": {"domain": [0, 100]},
"axis": {"title": "Carbon source utilization", "values": [0,10,20,30,40,50,60,70,80,90,100], "labelFont": "DejaVu Sans", "labelFontSize": 14, "labelFontWeight": "bold", "labelColor": "black", "labelPadding": 12, "tickSize": 6, "tickColor": "#888", "domainColor": "#888", "grid": true, "gridColor": "#888", "titleFont": "Liberation Serif", "titleFontSize": 16.5, "titleFontWeight": "normal", "titleColor": "black", "titlePadding": 23}},
"color": {"field": "source", "type": "nominal", "sort": null,
"scale": {"domain": ["Glucose","Galactose","Glycerol","Lactose","D\u00a0\u00a0Fructose","Maltose","Sucrose","D - Sorbital","D - Xylose","Trehalose","Citric Acid","Cellulose"],
"range": ["#4169A0","#A0403D","#7F9B45","#694F8A","#3B8EA5","#CC7A36","#4F81BD","#C0504D","#9BBB59","#8064A2","#4BACC6","#F79646"]},
"legend": {"title": null, "orient": "none", "legendX": 688, "legendY": 23, "padding": 0, "symbolType": "square", "symbolSize": 110, "symbolStrokeWidth": 0, "labelFont": "DejaVu Serif", "labelFontSize": 15.5, "labelFontWeight": "bold", "labelColor": "black", "labelOffset": 5, "rowPadding": 9.5, "labelLimit": 200}}
}
},
{
"data": {"name": "nitrogen"},
"width": 590, "height": 248,
"title": {"text": "B", "font": "Liberation Serif", "fontSize": 19, "fontWeight": "bold", "color": "black", "anchor": "middle", "dx": 33, "offset": 12},
"mark": {"type": "bar"},
"encoding": {
"x": {"field": "strain", "type": "nominal", "sort": null,
"scale": {"paddingInner": 0.1, "paddingOuter": 0.05},
"axis": {"title": "Sample strains", "labelAngle": -90, "labelFont": "Liberation Serif", "labelFontSize": 16.5, "labelFontWeight": "bold", "labelColor": "black", "ticks": false, "labelPadding": 15, "domainColor": "#888", "titleFont": "Liberation Serif", "titleFontSize": 16, "titleFontWeight": "bold", "titleColor": "black", "titlePadding": 15, "grid": false}},
"xOffset": {"field": "source", "type": "nominal", "sort": null},
"y": {"field": "pct", "type": "quantitative", "scale": {"domain": [0, 100]},
"axis": {"title": "Nitrogen Source utilization", "values": [0,10,20,30,40,50,60,70,80,90,100], "labelFont": "DejaVu Sans", "labelFontSize": 15, "labelFontWeight": "normal", "labelColor": "#222", "labelPadding": 12, "tickSize": 7, "tickColor": "#888", "domainColor": "#888", "grid": true, "gridColor": "#888", "titleFont": "Liberation Sans", "titleFontSize": 14, "titleFontWeight": "bold", "titleColor": "black", "titlePadding": 24}},
"color": {"field": "source", "type": "nominal", "sort": null,
"scale": {"domain": ["L - Arganine","L - Serine","L - Tryptophan","Glycine","L\u00a0\u00a0\u00a0Lysine","L - Leucine","DLβ- Phynylalanine","Gulutamic acid","L\u00a0\u00a0\u00a0Tyrosine","Methionine","Thiamine","Riboflavine"],
"range": ["#4169A0","#A0403D","#7F9B45","#694F8A","#3B8EA5","#CC7A36","#4F81BD","#C0504D","#9BBB59","#8064A2","#4BACC6","#F79646"]},
"legend": {"title": null, "orient": "none", "legendX": 616, "legendY": 17, "padding": 0, "symbolType": "square", "symbolSize": 110, "symbolStrokeWidth": 0, "labelFont": "DejaVu Serif", "labelFontSize": 16, "labelFontWeight": "bold", "labelColor": "black", "labelOffset": 4, "rowPadding": 12.5, "labelLimit": 220}}
}
}
],
"config": {"view": {"stroke": null}}
}
